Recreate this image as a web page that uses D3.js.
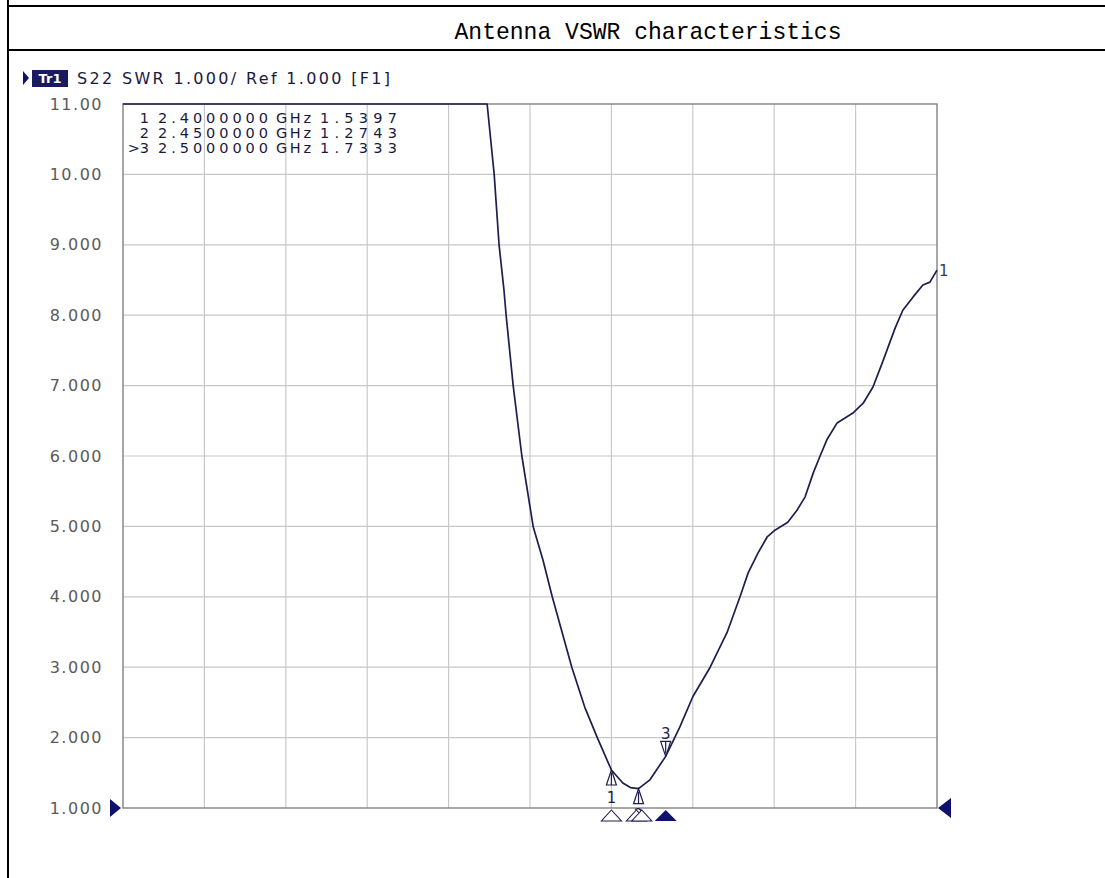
<!DOCTYPE html>
<html>
<head>
<meta charset="utf-8">
<script src="https://cdn.jsdelivr.net/npm/d3@7/dist/d3.min.js"></script>
<style>
  html, body { margin: 0; padding: 0; background: #fff; }
  svg { display: block; }
</style>
</head>
<body>
<svg id="chart" width="1105" height="878"></svg>
<script>
// ---- Data ----
const titleText = "Antenna VSWR characteristics";
const headerText = "S22 SWR 1.000/ Ref 1.000 [F1]";
const freqDomain = [1.5, 3.0];          // GHz, start / stop
const swrDomain = [1, 11];
const xGridTicks = [1.5, 1.65, 1.8, 1.95, 2.1, 2.25, 2.4, 2.55, 2.7, 2.85, 3.0];
const yTicks = [1, 2, 3, 4, 5, 6, 7, 8, 9, 10, 11];
const yTickLabels = ["1.000", "2.000", "3.000", "4.000", "5.000", "6.000", "7.000", "8.000", "9.000", "10.00", "11.00"];

const freqGHz = [1.500, 2.171, 2.184, 2.193, 2.202, 2.206, 2.219, 2.235, 2.256, 2.274, 2.291,
  2.327, 2.351, 2.374, 2.400, 2.421, 2.435, 2.450, 2.471, 2.500, 2.526, 2.550, 2.582, 2.613,
  2.637, 2.652, 2.670, 2.687, 2.702, 2.725, 2.742, 2.757, 2.772, 2.784, 2.797, 2.816, 2.845,
  2.864, 2.882, 2.899, 2.910, 2.923, 2.937, 2.956, 2.974, 2.987, 3.000];
const swrValues = [11.00, 11.00, 10.00, 9.00, 8.36, 8.00, 7.00, 6.00, 4.99, 4.52, 4.00,
  3.00, 2.43, 2.00, 1.5397, 1.355, 1.29, 1.2743, 1.40, 1.7333, 2.15, 2.58, 3.00, 3.49,
  4.00, 4.34, 4.62, 4.85, 4.95, 5.06, 5.23, 5.42, 5.76, 5.99, 6.23, 6.47, 6.61,
  6.75, 6.98, 7.32, 7.55, 7.82, 8.07, 8.26, 8.43, 8.47, 8.64];

const markerIds = ["1", "2", ">3"];
const markerFreqLabels = ["2.4000000", "2.4500000", "2.5000000"];
const markerFreq = [2.40, 2.45, 2.50];
const markerSwr = [1.5397, 1.2743, 1.7333];
const markerSwrLabels = ["1.5397", "1.2743", "1.7333"];

// ---- Drawing ----
const svg = d3.select("#chart");
const navy = "#10106e";
const trace = "#1e1e4e";
const uiFont = "DejaVu Sans, Verdana, sans-serif";

const x = d3.scaleLinear().domain(freqDomain).range([123, 937]);
const y = d3.scaleLinear().domain(swrDomain).range([808, 104]).clamp(true);

// outer frame lines
svg.append("line").attr("x1", 8).attr("x2", 8).attr("y1", 0).attr("y2", 878)
  .attr("stroke", "#000").attr("stroke-width", 2);
svg.append("line").attr("x1", 8).attr("x2", 1105).attr("y1", 6).attr("y2", 6)
  .attr("stroke", "#000").attr("stroke-width", 2);
svg.append("line").attr("x1", 8).attr("x2", 1105).attr("y1", 50).attr("y2", 50)
  .attr("stroke", "#000").attr("stroke-width", 2);

// title
svg.append("text").attr("x", 648).attr("y", 39).attr("text-anchor", "middle")
  .attr("font-family", "Liberation Mono, DejaVu Sans Mono, monospace")
  .attr("font-size", 24).attr("fill", "#000")
  .attr("textLength", 387).attr("lengthAdjust", "spacingAndGlyphs")
  .text(titleText);

// header
svg.append("path").attr("d", "M23,71 L29,78 L23,85 Z").attr("fill", navy);
svg.append("rect").attr("x", 32).attr("y", 70).attr("width", 36).attr("height", 17).attr("fill", "#1a1a60");
svg.append("text").attr("x", 50).attr("y", 83).attr("text-anchor", "middle")
  .attr("font-family", uiFont).attr("font-size", 13).attr("font-weight", "bold")
  .attr("fill", "#fff").text("Tr1");
svg.append("text").attr("x", 77).attr("y", 84)
  .attr("font-family", uiFont).attr("font-size", 16)
  .attr("fill", "#1a1a40").attr("textLength", 313).attr("lengthAdjust", "spacing")
  .text(headerText);

// grid
const g = svg.append("g");
g.selectAll("line.vg").data(xGridTicks.slice(1, -1)).join("line")
  .attr("x1", d => x(d)).attr("x2", d => x(d)).attr("y1", y(11)).attr("y2", y(1))
  .attr("stroke", "#c8c8c8").attr("stroke-width", 1.2);
g.selectAll("line.hg").data(yTicks.slice(1, -1)).join("line")
  .attr("x1", x(1.5)).attr("x2", x(3.0)).attr("y1", d => y(d)).attr("y2", d => y(d))
  .attr("stroke", "#c8c8c8").attr("stroke-width", 1.2);
g.append("rect").attr("x", x(1.5)).attr("y", y(11)).attr("width", x(3.0) - x(1.5)).attr("height", y(1) - y(11))
  .attr("fill", "none").attr("stroke", "#808080").attr("stroke-width", 1.4);

// y-axis labels via d3 axis
const yAxis = d3.axisLeft(y).tickValues(yTicks).tickSize(0).tickPadding(0)
  .tickFormat((d, i) => yTickLabels[i]);
const ya = svg.append("g").attr("transform", "translate(103,0)").call(yAxis);
ya.select(".domain").remove();
ya.selectAll("text").attr("font-family", uiFont).attr("font-size", 16)
  .attr("letter-spacing", "1.5px").attr("fill", "#5a5a5a");

// marker table
const rows = svg.append("g").attr("font-family", uiFont).attr("font-size", 14.5).attr("fill", "#1a1a40");
markerIds.forEach((id, i) => {
  const by = 123 + i * 15;
  rows.append("text").attr("x", 149).attr("y", by).attr("text-anchor", "end").text(id);
  rows.append("text").attr("x", 158).attr("y", by).attr("textLength", 110).attr("lengthAdjust", "spacing").text(markerFreqLabels[i]);
  rows.append("text").attr("x", 276).attr("y", by).attr("textLength", 35).attr("lengthAdjust", "spacing").text("GHz");
  rows.append("text").attr("x", 320).attr("y", by).attr("textLength", 77).attr("lengthAdjust", "spacing").text(markerSwrLabels[i]);
});

// trace
const pts = freqGHz.map((f, i) => [f, swrValues[i]]);
const line = d3.line().x(d => x(d[0])).y(d => y(d[1]));
svg.append("path").datum(pts).attr("d", line).attr("fill", "none")
  .attr("stroke", trace).attr("stroke-width", 1.7).attr("stroke-linejoin", "round");

// trace end label
svg.append("text").attr("x", x(3.0) + 2).attr("y", y(swrValues[swrValues.length - 1]) + 6)
  .attr("font-family", uiFont).attr("font-size", 15).attr("fill", "#3a3a5a").text("1");

// on-trace markers
const mk = svg.append("g").attr("fill", "#fff").attr("stroke", trace).attr("stroke-width", 1.2);
[0, 1].forEach(i => {
  const cx = x(markerFreq[i]), cy = y(markerSwr[i]);
  mk.append("path").attr("d", `M${cx},${cy} L${cx - 5},${cy + 15} L${cx + 5},${cy + 15} Z`);
  mk.append("line").attr("x1", cx).attr("x2", cx).attr("y1", cy + 3).attr("y2", cy + 15);
});
{
  const cx = x(markerFreq[2]), cy = y(markerSwr[2]);
  mk.append("path").attr("d", `M${cx},${cy} L${cx - 5},${cy - 15} L${cx + 5},${cy - 15} Z`);
  mk.append("line").attr("x1", cx).attr("x2", cx).attr("y1", cy - 3).attr("y2", cy - 15);
}
const mkl = svg.append("g").attr("font-family", uiFont).attr("font-size", 15)
  .attr("fill", trace).attr("text-anchor", "middle");
mkl.append("text").attr("x", x(markerFreq[0])).attr("y", y(markerSwr[0]) + 33).text("1");
mkl.append("text").attr("x", x(markerFreq[1])).attr("y", y(markerSwr[1]) + 31).text("2");
mkl.append("text").attr("x", x(markerFreq[2])).attr("y", y(markerSwr[2]) - 17).text("3");

// bottom stimulus markers
const by0 = 810, by1 = 821;
const bm = svg.append("g");
[markerFreq[0], markerFreq[1] - 0.004, markerFreq[1] + 0.006].forEach(f => {
  const cx = x(f);
  bm.append("path").attr("d", `M${cx},${by0} L${cx - 10},${by1} L${cx + 10},${by1} Z`)
    .attr("fill", "#fff").attr("stroke", trace).attr("stroke-width", 1.1);
});
{
  const cx = x(markerFreq[2]);
  bm.append("path").attr("d", `M${cx},${by0} L${cx - 11},${by1} L${cx + 11},${by1} Z`).attr("fill", navy);
}

// reference level markers
const ry = y(1);
svg.append("path").attr("d", `M110,${ry - 9} L121,${ry} L110,${ry + 9} Z`).attr("fill", navy);
svg.append("path").attr("d", `M951,${ry - 10} L938,${ry} L951,${ry + 10} Z`).attr("fill", navy);
</script>
</body>
</html>
